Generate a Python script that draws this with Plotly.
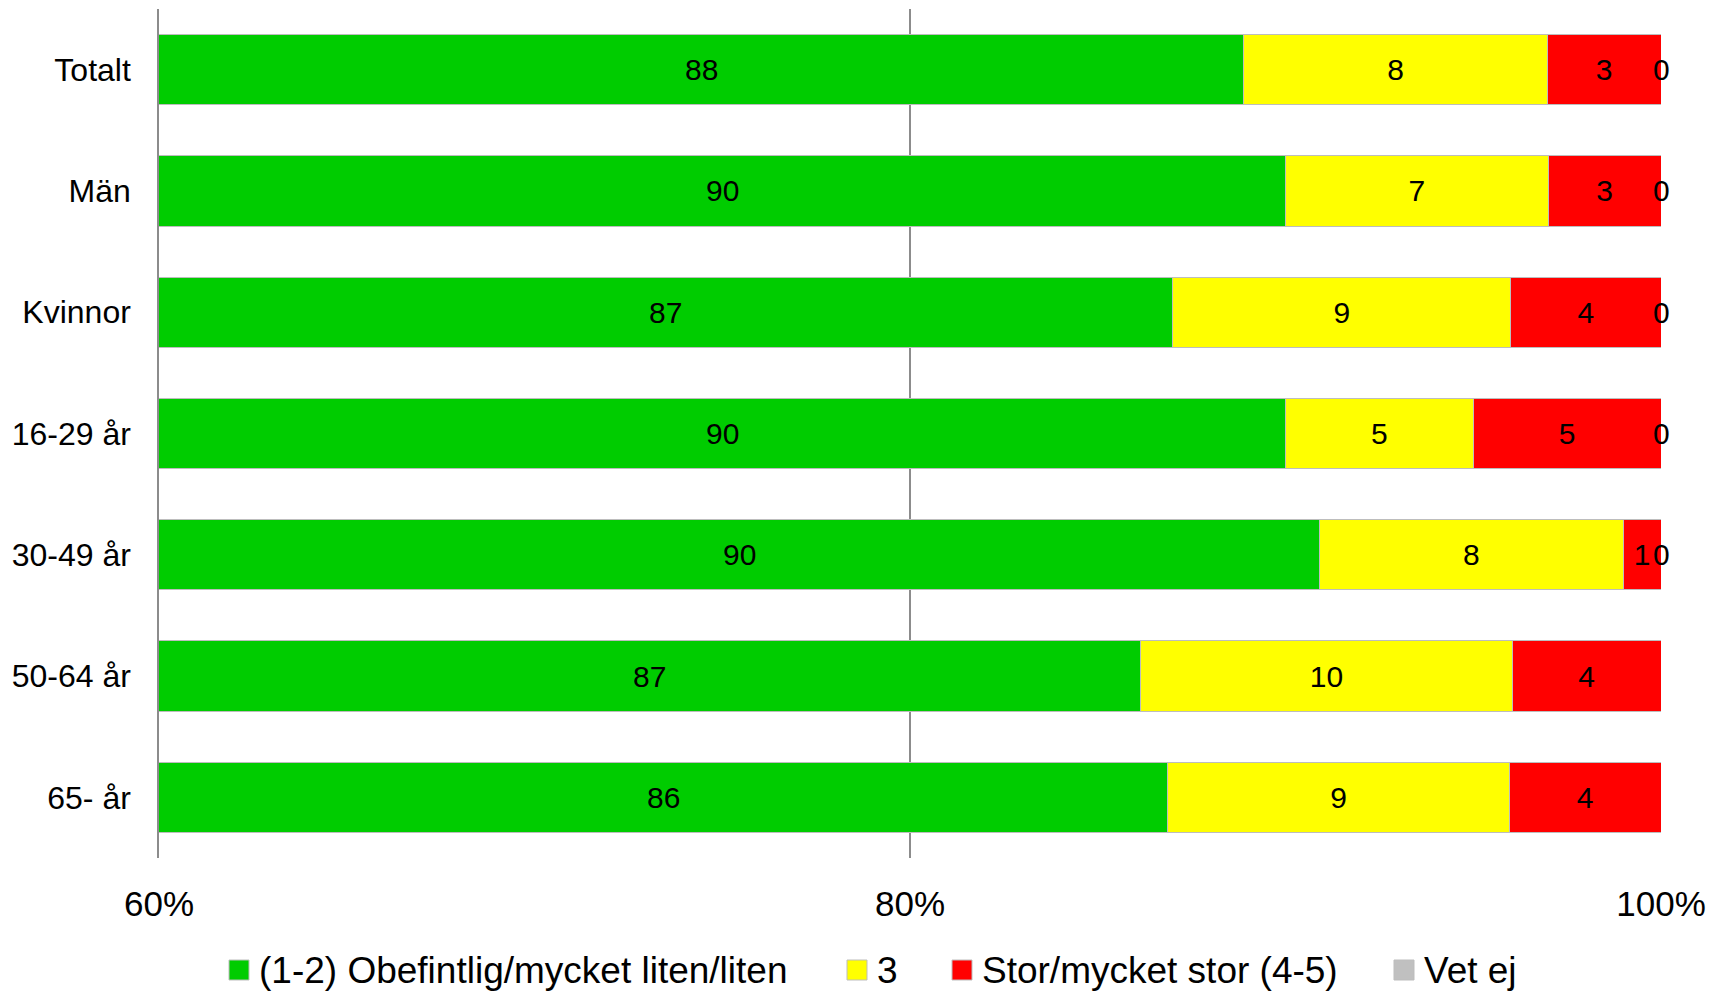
import plotly.graph_objects as go

# Survey groups (top to bottom) and answer shares per group
categories = ["Totalt", "Män", "Kvinnor", "16-29 år", "30-49 år", "50-64 år", "65- år"]
low = [88, 90, 87, 90, 90, 87, 86]          # (1-2) Obefintlig/mycket liten/liten
mid = [8, 7, 9, 5, 8, 10, 9]                # 3
high = [3, 3, 4, 5, 1, 4, 4]                # Stor/mycket stor (4-5)
dont_know = [0, 0, 0, 0, 0, None, None]     # Vet ej

series_names = ["(1-2) Obefintlig/mycket liten/liten", "3", "Stor/mycket stor (4-5)", "Vet ej"]
series_values = [low, mid, high, dont_know]
series_colors = ["#00CC00", "#FFFF00", "#FF0000", "#C0C0C0"]

X_MIN, X_MAX = 60, 100
FONT = "Liberation Sans, Arial, sans-serif"
LABEL_FONT = dict(family=FONT, size=30, color="black")

fig = go.Figure()
for idx, (name, vals, color) in enumerate(zip(series_names, series_values, series_colors)):
    xs = [v if v is not None else 0 for v in vals]
    # the first segment starts far left of the visible range; it gets its label below
    show_text = idx in (1, 2)
    fig.add_trace(go.Bar(
        y=categories,
        x=xs,
        name=name,
        orientation="h",
        marker=dict(color=color, line=dict(color="#bdbdbd", width=1)),
        text=[str(v) if (show_text and v is not None and v > 0) else "" for v in vals],
        texttemplate="%{text}",
        textposition="inside",
        insidetextanchor="middle",
        constraintext="none",
        textfont=LABEL_FONT,
        showlegend=False,
    ))

for i, cat in enumerate(categories):
    total = low[i] + mid[i] + high[i] + (dont_know[i] or 0)
    # first segment: centred on its visible part
    green_end = low[i] / total * 100
    fig.add_annotation(x=(X_MIN + green_end) / 2, y=cat, text=str(low[i]),
                       showarrow=False, xanchor="center", yanchor="middle",
                       font=LABEL_FONT)
    # zero-width "Vet ej" segment: label at its stacked position
    v = dont_know[i]
    if v is not None:
        pos = (low[i] + mid[i] + high[i] + v / 2) / total * 100
        fig.add_annotation(x=pos, y=cat, text=str(v), showarrow=False,
                           xanchor="center", yanchor="middle", font=LABEL_FONT)

# Legend row below the axis: coloured squares followed by the series names
W, H = 1725, 991
PLOT_L, PLOT_W, PLOT_B, PLOT_H = 159, 1502, 858, 849
legend_left = [229, 847, 952, 1394]   # left edge of each square, in pixels
SQ = 20
LEG_Y = 970
for name, color, left in zip(series_names, series_colors, legend_left):
    fig.add_shape(type="rect", xref="paper", yref="paper",
                  xsizemode="pixel", ysizemode="pixel",
                  xanchor=(left - PLOT_L) / PLOT_W,
                  yanchor=(PLOT_B - LEG_Y) / PLOT_H,
                  x0=0, x1=SQ, y0=-SQ / 2, y1=SQ / 2,
                  fillcolor=color, line=dict(color="#bdbdbd", width=1))
    fig.add_annotation(xref="paper", yref="paper",
                       x=(left + SQ + 8 - PLOT_L) / PLOT_W,
                       y=(PLOT_B - LEG_Y) / PLOT_H,
                       xanchor="left", yanchor="middle", showarrow=False,
                       text=name, font=dict(family=FONT, size=37, color="black"))

fig.update_layout(
    barmode="stack",
    barnorm="percent",
    bargap=0.42,
    width=W,
    height=H,
    margin=dict(l=PLOT_L, r=W - PLOT_L - PLOT_W, t=PLOT_B - PLOT_H, b=H - PLOT_B),
    paper_bgcolor="white",
    plot_bgcolor="white",
    font=dict(family=FONT, color="black"),
    showlegend=False,
)

fig.update_xaxes(
    range=[X_MIN, X_MAX],
    tickvals=[60, 80, 100],
    ticktext=["60%", "80%", "100%"],
    showgrid=True,
    gridcolor="#8c8c8c",
    gridwidth=1.5,
    zeroline=False,
    showline=False,
    ticks="outside",
    ticklen=15,
    tickcolor="rgba(0,0,0,0)",
    tickfont=dict(family=FONT, size=35, color="black"),
    automargin=False,
)

fig.update_yaxes(
    categoryorder="array",
    categoryarray=categories[::-1],
    range=[-0.5, len(categories) - 0.5],
    showline=True,
    linecolor="#8c8c8c",
    linewidth=1.5,
    showgrid=False,
    ticks="outside",
    ticklen=20,
    tickcolor="rgba(0,0,0,0)",
    tickfont=dict(family=FONT, size=32, color="black"),
    automargin=False,
)

fig.write_html("out.html")
